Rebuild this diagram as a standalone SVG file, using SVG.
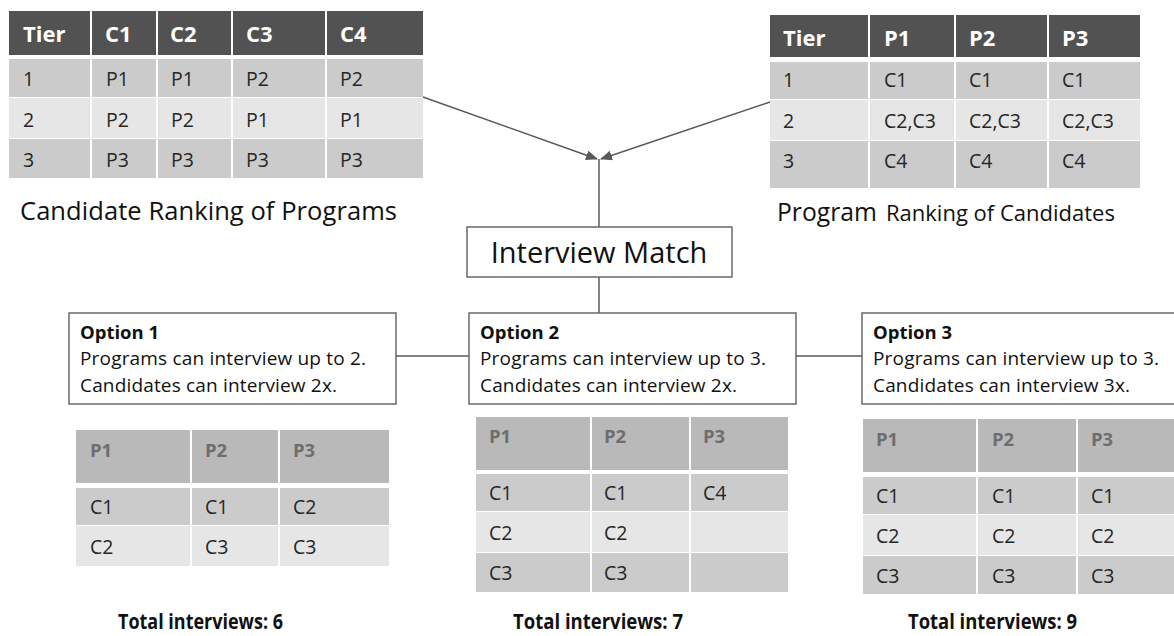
<svg xmlns="http://www.w3.org/2000/svg" width="1174" height="636" viewBox="0 0 1174 636">
<style>
text{font-family:"Open Sans","Noto Sans",sans-serif}
.th{font-size:22px;font-weight:bold;fill:#fff}
.td{font-size:19.5px;fill:#262626}
.oh{font-size:18.5px;font-weight:bold;fill:#6e6e6e}
.dark{fill:#525252}
.r1{fill:#cbcbcb}
.r2{fill:#e6e6e6}
.oph{fill:#b9b9b9}
.sep{stroke:#fff;stroke-width:2}
.box{fill:#fff;stroke:#6a6a6a;stroke-width:1.5}
.lbl{font-size:25.5px;fill:#111}
.opt{font-size:19px;fill:#111}
.optb{font-size:18.5px;font-weight:bold;fill:#111}
.tot{font-size:21.5px;font-weight:bold;fill:#111}
.conn{stroke:#595959;stroke-width:1.5;fill:none}
</style>
<defs>
<marker id="ah" markerUnits="userSpaceOnUse" markerWidth="12" markerHeight="10" refX="11" refY="5" orient="auto">
<path d="M0,0 L12,5 L0,10 z" fill="#595959"/>
</marker>
</defs>

<g id="connectors">
<line class="conn" x1="423" y1="97" x2="597" y2="159" marker-end="url(#ah)"/>
<line class="conn" x1="770" y1="102" x2="601" y2="159" marker-end="url(#ah)"/>
<line class="conn" x1="599" y1="159" x2="599" y2="227"/>
<line class="conn" x1="599" y1="277" x2="599" y2="313"/>
<line class="conn" x1="396" y1="356" x2="469" y2="356"/>
<line class="conn" x1="796" y1="356" x2="862" y2="356"/>
</g>

<g id="candidate-table">
<rect class="dark" x="9" y="11" width="414" height="44"/>
<rect class="r1" x="9" y="59" width="414" height="38"/>
<rect class="r2" x="9" y="98" width="414" height="40"/>
<rect class="r1" x="9" y="139" width="414" height="39"/>
<g class="sep"><line x1="91" y1="11" x2="91" y2="178"/><line x1="157" y1="11" x2="157" y2="178"/><line x1="232" y1="11" x2="232" y2="178"/><line x1="326" y1="11" x2="326" y2="178"/></g>
<text class="th" x="23" y="42">Tier</text><text class="th" x="105" y="42">C1</text><text class="th" x="170" y="42">C2</text><text class="th" x="246" y="42">C3</text><text class="th" x="340" y="42">C4</text>
<text class="td" x="23" y="86">1</text><text class="td" x="106" y="86">P1</text><text class="td" x="171" y="86">P1</text><text class="td" x="246" y="86">P2</text><text class="td" x="340" y="86">P2</text>
<text class="td" x="23" y="127">2</text><text class="td" x="106" y="127">P2</text><text class="td" x="171" y="127">P2</text><text class="td" x="246" y="127">P1</text><text class="td" x="340" y="127">P1</text>
<text class="td" x="23" y="167">3</text><text class="td" x="106" y="167">P3</text><text class="td" x="171" y="167">P3</text><text class="td" x="246" y="167">P3</text><text class="td" x="340" y="167">P3</text>
<text class="lbl" x="20" y="220" textLength="377">Candidate Ranking of Programs</text>
</g>

<g id="program-table">
<rect class="dark" x="770" y="15" width="370" height="42"/>
<rect class="r1" x="770" y="62" width="370" height="37"/>
<rect class="r2" x="770" y="100" width="370" height="40"/>
<rect class="r1" x="770" y="141" width="370" height="47"/>
<g class="sep"><line x1="869" y1="15" x2="869" y2="188"/><line x1="955" y1="15" x2="955" y2="188"/><line x1="1048" y1="15" x2="1048" y2="188"/></g>
<text class="th" x="783" y="46">Tier</text><text class="th" x="884" y="46">P1</text><text class="th" x="969" y="46">P2</text><text class="th" x="1062" y="46">P3</text>
<text class="td" x="783" y="87">1</text><text class="td" x="884" y="87">C1</text><text class="td" x="969" y="87">C1</text><text class="td" x="1062" y="87">C1</text>
<text class="td" x="783" y="128">2</text><text class="td" x="884" y="128">C2,C3</text><text class="td" x="969" y="128">C2,C3</text><text class="td" x="1062" y="128">C2,C3</text>
<text class="td" x="783" y="168">3</text><text class="td" x="884" y="168">C4</text><text class="td" x="969" y="168">C4</text><text class="td" x="1062" y="168">C4</text>
<text x="777" y="221" fill="#111"><tspan font-size="24.7px">Program</tspan><tspan font-size="22px" x="886">Ranking of Candidates</tspan></text>
</g>

<g id="interview-match">
<rect class="box" x="467" y="227" width="265" height="50"/>
<text x="599" y="263" text-anchor="middle" font-size="29px" fill="#111">Interview Match</text>
</g>

<g id="option1">
<rect class="box" x="69" y="313" width="327" height="91"/>
<text class="optb" x="80" y="339">Option 1</text>
<text class="opt" x="80" y="365" textLength="286">Programs can interview up to 2.</text>
<text class="opt" x="80" y="392" textLength="257">Candidates can interview 2x.</text>
<rect class="oph" x="76" y="430" width="313" height="53"/>
<rect class="r1" x="76" y="488" width="313" height="37"/>
<rect class="r2" x="76" y="526" width="313" height="40"/>
<g class="sep"><line x1="191" y1="430" x2="191" y2="566"/><line x1="279" y1="430" x2="279" y2="566"/></g>
<text class="oh" x="90" y="457">P1</text><text class="oh" x="205" y="457">P2</text><text class="oh" x="293" y="457">P3</text>
<text class="td" x="90" y="514">C1</text><text class="td" x="205" y="514">C1</text><text class="td" x="293" y="514">C2</text>
<text class="td" x="90" y="554">C2</text><text class="td" x="205" y="554">C3</text><text class="td" x="293" y="554">C3</text>
<text class="tot" x="118" y="629" textLength="165" lengthAdjust="spacingAndGlyphs">Total interviews: 6</text>
</g>

<g id="option2">
<rect class="box" x="469" y="313" width="327" height="91"/>
<text class="optb" x="480" y="339">Option 2</text>
<text class="opt" x="480" y="365" textLength="286">Programs can interview up to 3.</text>
<text class="opt" x="480" y="392" textLength="257">Candidates can interview 2x.</text>
<rect class="oph" x="476" y="417" width="312" height="53"/>
<rect class="r1" x="476" y="474" width="312" height="37"/>
<rect class="r2" x="476" y="512" width="312" height="40"/>
<rect class="r1" x="476" y="553" width="312" height="39"/>
<g class="sep"><line x1="591" y1="417" x2="591" y2="592"/><line x1="690" y1="417" x2="690" y2="592"/></g>
<text class="oh" x="489" y="443">P1</text><text class="oh" x="604" y="443">P2</text><text class="oh" x="703" y="443">P3</text>
<text class="td" x="489" y="500">C1</text><text class="td" x="604" y="500">C1</text><text class="td" x="703" y="500">C4</text>
<text class="td" x="489" y="540">C2</text><text class="td" x="604" y="540">C2</text>
<text class="td" x="489" y="580">C3</text><text class="td" x="604" y="580">C3</text>
<text class="tot" x="513" y="629" textLength="170" lengthAdjust="spacingAndGlyphs">Total interviews: 7</text>
</g>

<g id="option3">
<rect class="box" x="862" y="313" width="330" height="91"/>
<text class="optb" x="873" y="339">Option 3</text>
<text class="opt" x="873" y="365" textLength="286">Programs can interview up to 3.</text>
<text class="opt" x="873" y="392" textLength="257">Candidates can interview 3x.</text>
<rect class="oph" x="863" y="419" width="320" height="53"/>
<rect class="r1" x="863" y="477" width="320" height="37"/>
<rect class="r2" x="863" y="515" width="320" height="40"/>
<rect class="r1" x="863" y="556" width="320" height="38"/>
<g class="sep"><line x1="977" y1="419" x2="977" y2="594"/><line x1="1077" y1="419" x2="1077" y2="594"/></g>
<text class="oh" x="876" y="446">P1</text><text class="oh" x="992" y="446">P2</text><text class="oh" x="1091" y="446">P3</text>
<text class="td" x="876" y="503">C1</text><text class="td" x="992" y="503">C1</text><text class="td" x="1091" y="503">C1</text>
<text class="td" x="876" y="543">C2</text><text class="td" x="992" y="543">C2</text><text class="td" x="1091" y="543">C2</text>
<text class="td" x="876" y="583">C3</text><text class="td" x="992" y="583">C3</text><text class="td" x="1091" y="583">C3</text>
<text class="tot" x="908" y="629" textLength="169" lengthAdjust="spacingAndGlyphs">Total interviews: 9</text>
</g>
</svg>
